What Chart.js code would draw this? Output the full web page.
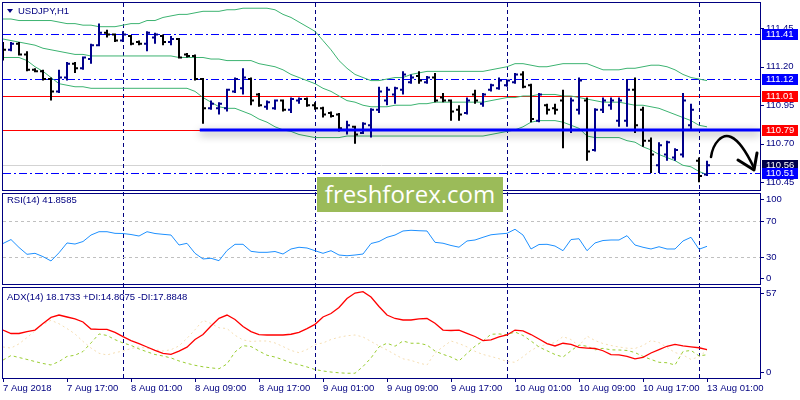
<!DOCTYPE html>
<html>
<head>
<meta charset="utf-8">
<title>USDJPY,H1</title>
<script src="https://cdn.jsdelivr.net/npm/chart.js@4/dist/chart.umd.min.js"></script>
<style>
  html, body { margin: 0; padding: 0; background: #fff; }
  #wrap { position: relative; width: 800px; height: 400px; overflow: hidden; font-family: "Liberation Sans", Arial, sans-serif; }
  #wrap canvas { position: absolute; left: 0; top: 0; }
  .lbl { position: absolute; font-size: 9.5px; line-height: 11px; color: #000080; white-space: nowrap; }
  #tri { position: absolute; left: 7px; top: 9px; width: 0; height: 0;
         border-left: 3.5px solid transparent; border-right: 3.5px solid transparent; border-top: 4px solid #000080; }
  #mark { position: absolute; left: 317px; top: 177px; width: 186px; height: 35px; background: #9bbb59;
          color: #fff; font-family: "Open Sans", sans-serif; font-size: 24px; line-height: 34px; text-align: center; }
  #arrow { position: absolute; left: 0; top: 0; }
</style>
</head>
<body>
<div id="wrap">
  <canvas id="main" width="800" height="400"></canvas>
  <canvas id="rsi" width="800" height="400"></canvas>
  <canvas id="adx" width="800" height="400"></canvas>
  <div id="tri"></div>
  <div class="lbl" style="left:18px;top:5px">USDJPY,H1</div>
  <div class="lbl" style="left:7px;top:194px">RSI(14) 41.8585</div>
  <div class="lbl" style="left:7px;top:291px">ADX(14) 18.1733 +DI:14.8075 -DI:17.8848</div>
  <div id="mark">freshforex.com</div>
  <svg id="arrow" width="800" height="400">
    <path d="M711,157 C713,143 722,133 731,137 C740,141 747,153 754,168" fill="none" stroke="#000" stroke-width="2.5" stroke-linecap="round"/>
    <path d="M738,160 L754,170 L757,153" fill="none" stroke="#000" stroke-width="3" stroke-linecap="round" stroke-linejoin="round"/>
  </svg>
</div>
<script>
// ---- data (USDJPY H1, 7 Aug 09:00 .. 13 Aug 01:00) ----
var openPrices = [
  111.34,111.31,111.35,111.28,111.18,111.17,111.12,111.04,111.13,111.22,
  111.19,111.25,111.34,111.42,111.41,111.37,111.40,111.36,111.35,111.39,
  111.40,111.36,111.38,111.28,111.27,111.12,110.93,110.93,110.93,111.04,
  111.06,111.12,111.02,110.94,110.93,110.98,110.92,110.98,110.99,110.95,
  110.93,110.90,110.89,110.79,110.81,110.77,110.82,110.92,110.98,111.02,
  111.05,111.10,111.14,111.10,111.13,111.00,110.98,110.92,110.90,111.02,
  110.96,111.05,111.06,111.08,111.10,111.15,111.08,110.85,110.95,110.93,
  110.98,110.79,110.92,110.98,110.66,110.92,110.95,110.85,110.85,111.05,
  110.92,110.72,110.56,110.63,110.61,110.63,110.82,110.59,110.50];
var highPrices = [
  111.36,111.36,111.36,111.30,111.19,111.18,111.13,111.18,111.23,111.23,
  111.26,111.35,111.48,111.44,111.41,111.43,111.40,111.37,111.43,111.42,
  111.41,111.40,111.38,111.29,111.28,111.12,110.98,110.97,111.05,111.13,
  111.19,111.13,111.03,110.98,110.98,110.98,111.00,111.00,111.00,110.97,
  110.94,110.91,110.90,110.85,110.81,110.84,110.93,111.07,111.07,111.07,
  111.17,111.15,111.17,111.14,111.16,111.03,110.98,110.95,111.00,111.05,
  111.03,111.09,111.13,111.11,111.16,111.17,111.09,111.03,110.96,110.96,
  111.05,111.00,111.13,111.00,110.93,111.00,111.00,111.00,111.12,111.13,
  110.94,110.74,110.71,110.72,110.67,111.03,110.96,110.61,110.59];
var lowPrices = [
  111.24,111.30,111.28,111.17,111.17,111.11,110.98,111.03,111.11,111.16,
  111.18,111.22,111.34,111.39,111.36,111.36,111.34,111.34,111.30,111.35,
  111.34,111.34,111.26,111.26,111.11,110.83,110.92,110.89,110.91,111.03,
  111.02,110.95,110.94,110.92,110.92,110.91,110.90,110.96,110.94,110.92,
  110.87,110.87,110.78,110.76,110.70,110.77,110.74,110.90,110.95,110.96,
  111.02,111.09,111.09,111.09,110.97,110.97,110.85,110.85,110.89,110.96,
  110.94,111.04,111.05,111.07,111.09,111.06,110.84,110.84,110.89,110.89,
  110.67,110.77,110.89,110.59,110.65,110.90,110.92,110.81,110.81,110.77,
  110.68,110.51,110.51,110.59,110.59,110.61,110.79,110.45,110.49];
var closePrices = [
  111.31,111.35,111.28,111.18,111.17,111.12,111.04,111.13,111.22,111.19,
  111.26,111.34,111.42,111.41,111.37,111.41,111.35,111.35,111.42,111.41,
  111.36,111.38,111.26,111.27,111.12,110.93,110.96,110.96,111.05,111.12,
  111.13,110.98,110.95,110.97,110.98,110.92,110.99,110.99,110.95,110.93,
  110.89,110.88,110.80,110.82,110.76,110.83,110.92,111.04,111.05,111.06,
  111.15,111.13,111.11,111.13,110.98,110.98,110.91,110.89,110.98,110.98,
  111.02,111.08,111.11,111.11,111.15,111.07,110.86,111.02,110.92,110.92,
  110.79,110.98,111.11,110.65,110.92,110.98,110.98,110.98,111.05,110.82,
  110.72,110.63,110.69,110.71,110.66,110.98,110.92,110.49,110.56];

var bandUpper = [
  111.51,111.51,111.50,111.50,111.50,111.50,111.50,111.49,111.48,111.48,
  111.47,111.47,111.46,111.46,111.46,111.47,111.48,111.48,111.50,111.50,
  111.52,111.53,111.54,111.54,111.55,111.56,111.56,111.56,111.57,111.57,
  111.58,111.58,111.58,111.58,111.57,111.54,111.52,111.49,111.46,111.43,
  111.37,111.31,111.24,111.19,111.15,111.13,111.11,111.11,111.12,111.13,
  111.13,111.15,111.16,111.17,111.17,111.17,111.17,111.17,111.17,111.17,
  111.17,111.18,111.19,111.20,111.22,111.22,111.21,111.20,111.20,111.21,
  111.22,111.22,111.22,111.22,111.20,111.18,111.18,111.18,111.19,111.19,
  111.20,111.21,111.21,111.20,111.18,111.15,111.13,111.12,111.11];
var bandMiddle = [
  111.38,111.37,111.36,111.35,111.34,111.32,111.31,111.30,111.29,111.28,
  111.28,111.27,111.27,111.27,111.27,111.27,111.27,111.27,111.27,111.27,
  111.27,111.27,111.26,111.26,111.26,111.26,111.25,111.25,111.24,111.24,
  111.24,111.24,111.22,111.21,111.20,111.18,111.15,111.13,111.11,111.09,
  111.06,111.04,111.01,110.98,110.97,110.95,110.94,110.94,110.94,110.95,
  110.95,110.95,110.96,110.96,110.97,110.97,110.97,110.97,110.97,110.97,
  110.97,110.98,110.99,111.00,111.00,111.01,111.01,111.02,111.02,111.02,
  111.01,111.01,111.00,110.99,110.98,110.97,110.97,110.97,110.96,110.95,
  110.95,110.94,110.93,110.91,110.89,110.87,110.85,110.82,110.81];
var bandLower = [
  111.26,111.26,111.26,111.24,111.20,111.17,111.13,111.09,111.08,111.07,
  111.07,111.06,111.06,111.06,111.06,111.06,111.06,111.06,111.06,111.06,
  111.06,111.06,111.06,111.06,111.04,111.00,110.97,110.94,110.93,110.93,
  110.91,110.89,110.86,110.84,110.81,110.79,110.78,110.76,110.75,110.74,
  110.74,110.74,110.74,110.75,110.75,110.75,110.75,110.75,110.75,110.75,
  110.75,110.75,110.75,110.75,110.75,110.75,110.75,110.75,110.75,110.75,
  110.75,110.76,110.77,110.78,110.79,110.81,110.84,110.85,110.85,110.85,
  110.84,110.82,110.80,110.75,110.74,110.74,110.74,110.74,110.72,110.71,
  110.68,110.66,110.63,110.61,110.59,110.56,110.55,110.52,110.50];

var rsiValues = [
  45.0,49.4,40.6,33.0,34.1,30.4,25.6,34.7,45.6,44.4,
  47.2,54.4,58.1,58.1,56.3,56.1,55.0,53.3,58.1,56.1,
  55.2,54.4,43.3,45.2,34.1,27.8,28.6,25.9,37.2,44.1,
  44.1,36.3,35.2,35.2,36.1,33.3,38.9,40.8,40.0,37.0,
  34.1,37.0,32.2,31.4,32.2,33.3,45.0,47.2,51.9,54.4,
  58.9,59.7,59.2,58.9,46.3,45.3,42.8,40.9,47.8,48.9,
  51.9,54.7,55.6,56.3,60.8,54.4,38.9,43.9,44.1,42.2,
  37.0,49.4,50.3,37.0,45.6,48.3,48.9,48.9,53.7,43.3,
  40.8,38.9,41.4,38.9,38.9,47.8,51.9,38.6,41.86];

var adxValues = [
  31.3,29.0,29.0,30.3,31.3,35.7,39.7,41.3,40.0,38.7,
  36.7,32.0,31.8,31.8,29.7,26.9,24.3,22.2,20.0,17.7,
  15.8,15.1,17.3,19.9,25.0,28.3,34.0,39.1,41.3,38.3,
  33.7,30.3,28.3,28.0,28.0,28.0,28.5,29.8,32.3,35.1,
  40.0,42.3,46.3,52.3,56.0,56.9,53.3,47.0,41.3,39.0,
  38.0,38.0,38.7,39.0,35.8,31.3,31.0,31.3,29.1,27.0,
  24.3,24.7,26.7,28.0,31.3,30.7,28.3,25.3,22.3,20.7,
  22.5,21.7,19.7,19.3,19.0,17.5,14.9,14.7,13.7,12.1,
  13.1,16.0,18.3,20.5,21.8,20.8,20.1,19.5,18.17];
var plusDI = [
  11.3,14.3,13.0,11.7,10.3,9.0,8.0,10.3,13.7,14.5,
  17.0,22.7,28.7,27.7,24.9,22.7,21.1,18.7,16.8,15.0,
  14.0,12.7,10.7,9.1,7.8,6.8,6.1,5.5,8.7,16.7,
  20.9,20.3,17.3,14.5,13.3,11.5,9.4,8.2,6.7,5.0,
  4.0,3.3,2.8,2.5,2.5,7.0,12.7,20.1,22.5,20.5,
  24.0,22.5,22.5,21.3,17.3,15.1,13.3,10.7,15.7,20.5,
  24.0,28.5,28.7,28.2,30.0,27.7,24.0,20.0,17.5,15.0,
  13.3,17.5,21.3,20.5,18.1,19.1,18.1,18.0,17.7,16.3,
  13.7,11.7,9.8,9.5,8.0,17.0,17.7,14.1,14.81];
var minusDI = [
  20.0,19.3,22.1,26.3,30.8,35.0,37.8,35.5,32.3,28.7,
  23.7,19.3,15.8,14.7,16.2,17.3,19.0,20.0,19.1,18.2,
  17.3,18.2,20.7,25.8,31.5,37.8,35.7,32.8,32.3,27.8,
  24.7,23.7,24.0,24.0,22.7,20.3,17.7,16.2,18.3,21.7,
  22.7,25.0,26.5,27.5,28.0,26.7,23.7,20.7,18.0,15.0,
  12.1,11.1,9.3,8.0,16.0,20.2,24.0,22.3,20.1,17.1,
  15.0,13.7,12.2,10.3,9.8,13.5,17.7,20.5,21.7,23.0,
  26.9,25.0,20.7,27.3,24.3,22.3,21.0,20.0,19.2,19.0,
  21.0,24.3,23.0,19.7,16.3,14.7,11.7,13.5,17.88];

var timeLabels = ['7 Aug 2018','7 Aug 17:00','8 Aug 01:00','8 Aug 09:00','8 Aug 17:00','9 Aug 01:00',
                  '9 Aug 09:00','9 Aug 17:00','10 Aug 01:00','10 Aug 09:00','10 Aug 17:00','13 Aug 01:00'];
var timeLabelBars = [0, 8, 16, 24, 32, 40, 48, 56, 64, 72, 80, 88];
var daySeparators = [15, 39, 63, 87];

var priceTicks = [111.45, 111.20, 110.95, 110.70, 110.45];
var rsiTicks = [100, 70, 30, 0];
var rsiLevels = [70, 30];
var adxTicks = [57, 0];

var dashDotLevels = [111.41, 111.12, 110.51];
var redLevels = [111.01, 110.79];
var bidLevel = 110.56;
var trendLevel = 110.79;
var trendStartBar = 24.6;
var tagLevels = [111.41, 111.12, 111.01, 110.79, 110.56, 110.51];

// ---- styling ----
var NAVY = '#000080';
var FONT = '9.5px "Liberation Sans", Arial, sans-serif';
var X_MAX = 94.625;
var TICK = 0.375;
var tagColors = ['#0000ff', '#0000ff', '#ff0000', '#ff0000', '#00004a', '#0000ff'];

Chart.defaults.font.family = '"Liberation Sans", Arial, sans-serif';
Chart.defaults.font.size = 9.5;

function ohlcPath(up) {
  var pts = [];
  for (var i = 0; i < openPrices.length; i++) {
    var o = openPrices[i], c = closePrices[i];
    if ((c >= o) !== up) continue;
    pts.push({x: i - TICK, y: o}, {x: i, y: o}, {x: i, y: highPrices[i]}, {x: i, y: lowPrices[i]},
             {x: i, y: c}, {x: i + TICK, y: c}, {x: i + 0.5, y: null});
  }
  return pts;
}
function series(arr) {
  return arr.map(function (v, i) { return {x: i, y: v}; });
}

function hline(ctx, a, py, color, width, dash) {
  var y = Math.round(py) + (width % 2 ? 0.5 : 0);
  ctx.save();
  ctx.strokeStyle = color; ctx.lineWidth = width; ctx.setLineDash(dash);
  ctx.beginPath(); ctx.moveTo(a.left, y); ctx.lineTo(a.right, y); ctx.stroke();
  ctx.restore();
}
function frame(ctx, a) {
  ctx.save();
  ctx.strokeStyle = NAVY; ctx.lineWidth = 1;
  ctx.strokeRect(a.left - 0.5, a.top - 0.5, a.right - a.left + 1, a.bottom - a.top + 1);
  ctx.restore();
}
function rightLabels(chart, ticks, digits) {
  var ctx = chart.ctx, a = chart.chartArea, ys = chart.scales.y;
  ctx.save();
  ctx.font = FONT; ctx.fillStyle = NAVY; ctx.strokeStyle = NAVY; ctx.lineWidth = 1;
  ctx.textBaseline = 'middle'; ctx.textAlign = 'left';
  ticks.forEach(function (v) {
    var py = Math.min(Math.max(ys.getPixelForValue(v), a.top + 5), a.bottom - 6);
    ctx.beginPath(); ctx.moveTo(a.right + 1, Math.round(py) + 0.5); ctx.lineTo(a.right + 4, Math.round(py) + 0.5); ctx.stroke();
    ctx.fillText(v.toFixed(digits), a.right + 6, py);
  });
  ctx.restore();
}

var shadowPlugin = {
  id: 'shadow',
  beforeDatasetDraw: function (chart, args) {
    if (chart.data.datasets[args.index].shadow) {
      var ctx = chart.ctx; ctx.save();
      ctx.shadowColor = 'rgba(0,0,0,0.45)'; ctx.shadowBlur = 8; ctx.shadowOffsetY = 3;
    }
  },
  afterDatasetDraw: function (chart, args) {
    if (chart.data.datasets[args.index].shadow) chart.ctx.restore();
  }
};

var mainDecor = {
  id: 'mainDecor',
  beforeDatasetsDraw: function (chart) {
    var ctx = chart.ctx, a = chart.chartArea, xs = chart.scales.x, ys = chart.scales.y;
    hline(ctx, a, ys.getPixelForValue(bidLevel), '#d3d3d3', 1, []);
    redLevels.forEach(function (v) { hline(ctx, a, ys.getPixelForValue(v), '#ff0000', 1, []); });
    dashDotLevels.forEach(function (v) { hline(ctx, a, ys.getPixelForValue(v), '#0000ff', 1, [8, 3, 2, 3]); });
    // day separators through all three panes
    ctx.save();
    ctx.strokeStyle = NAVY; ctx.lineWidth = 1; ctx.setLineDash([4, 3]);
    daySeparators.forEach(function (b) {
      var px = Math.floor(xs.getPixelForValue(b)) + 0.5;
      ctx.beginPath(); ctx.moveTo(px, a.top); ctx.lineTo(px, 378); ctx.stroke();
    });
    ctx.restore();
  },
  afterDraw: function (chart) {
    var ctx = chart.ctx, a = chart.chartArea, ys = chart.scales.y;
    frame(ctx, a);
    rightLabels(chart, priceTicks, 2);
    ctx.save();
    ctx.font = FONT; ctx.textBaseline = 'middle'; ctx.textAlign = 'left';
    tagLevels.forEach(function (v, k) {
      var py = Math.round(ys.getPixelForValue(v));
      ctx.fillStyle = tagColors[k];
      ctx.fillRect(a.right + 2, py - 5, 36, 11);
      ctx.fillStyle = '#ffffff';
      ctx.fillText(v.toFixed(2), a.right + 6, py + 0.5);
    });
    ctx.restore();
  }
};

var rsiDecor = {
  id: 'rsiDecor',
  beforeDatasetsDraw: function (chart) {
    var a = chart.chartArea, ys = chart.scales.y;
    rsiLevels.forEach(function (v) { hline(chart.ctx, a, ys.getPixelForValue(v), '#c0c0c0', 1, [3, 3]); });
  },
  afterDraw: function (chart) {
    frame(chart.ctx, chart.chartArea);
    rightLabels(chart, rsiTicks, 0);
  }
};

var adxDecor = {
  id: 'adxDecor',
  afterDraw: function (chart) {
    frame(chart.ctx, chart.chartArea);
    rightLabels(chart, adxTicks, 0);
  }
};

function baseOptions(pad, yMin, yMax, showX) {
  return {
    responsive: false, maintainAspectRatio: false, animation: false, events: [],
    layout: { padding: pad },
    plugins: { legend: { display: false }, tooltip: { enabled: false } },
    elements: { point: { radius: 0 }, line: { tension: 0, borderCapStyle: 'butt', borderJoinStyle: 'miter' } },
    scales: {
      x: showX ? {
        type: 'linear', min: 0, max: X_MAX,
        afterFit: function (s) { s.height = 22; s.paddingLeft = 0; s.paddingRight = 0; },
        afterBuildTicks: function (s) { s.ticks = timeLabelBars.map(function (b) { return {value: b}; }); },
        grid: { display: true, drawOnChartArea: false, drawTicks: true, tickLength: 4, color: NAVY },
        border: { display: false },
        ticks: {
          align: 'start', padding: 1, color: NAVY, maxRotation: 0, autoSkip: false,
          font: { size: 9.5 },
          callback: function (v, i) { return timeLabels[i]; }
        }
      } : { type: 'linear', min: 0, max: X_MAX, display: false },
      y: { min: yMin, max: yMax, display: false }
    }
  };
}

new Chart(document.getElementById('main'), {
  type: 'line',
  data: {
    datasets: [
      { label: 'level', data: [{x: trendStartBar, y: trendLevel}, {x: X_MAX, y: trendLevel}],
        borderColor: '#0000ff', borderWidth: 3, shadow: true },
      { label: 'down', data: ohlcPath(false), borderColor: '#000000', borderWidth: 2, spanGaps: false },
      { label: 'up', data: ohlcPath(true), borderColor: '#00008b', borderWidth: 2, spanGaps: false },
      { label: 'BB upper', data: series(bandUpper), borderColor: '#3cb371', borderWidth: 1 },
      { label: 'BB middle', data: series(bandMiddle), borderColor: '#3cb371', borderWidth: 1 },
      { label: 'BB lower', data: series(bandLower), borderColor: '#3cb371', borderWidth: 1 }
    ]
  },
  options: baseOptions({left: 3, right: 40, top: 3, bottom: 210}, 110.3996, 111.6139, false),
  plugins: [shadowPlugin, mainDecor]
});

new Chart(document.getElementById('rsi'), {
  type: 'line',
  data: { datasets: [
    { label: 'RSI(14)', data: series(rsiValues), borderColor: '#1e90ff', borderWidth: 1 }
  ] },
  options: baseOptions({left: 3, right: 40, top: 194, bottom: 116}, 0, 100, false),
  plugins: [rsiDecor]
});

new Chart(document.getElementById('adx'), {
  type: 'line',
  data: { datasets: [
    { label: 'ADX', data: series(adxValues), borderColor: '#ff0000', borderWidth: 1.3 },
    { label: '+DI', data: series(plusDI), borderColor: '#9acd32', borderWidth: 1, borderDash: [3, 3] },
    { label: '-DI', data: series(minusDI), borderColor: '#f5deb3', borderWidth: 1, borderDash: [2, 3] }
  ] },
  options: baseOptions({left: 3, right: 40, top: 288, bottom: 0}, -0.667, 59.33, true),
  plugins: [adxDecor]
});
</script>
</body>
</html>
